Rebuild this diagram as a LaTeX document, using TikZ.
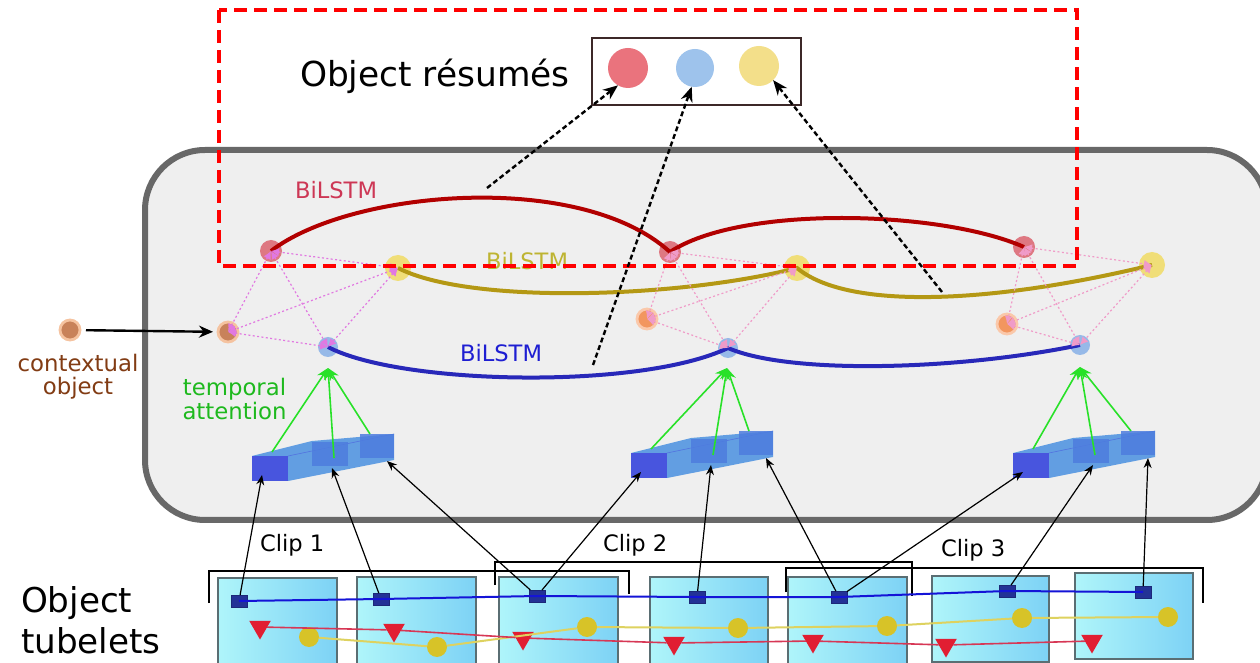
\documentclass[tikz,border=0pt]{standalone}
\usepackage{fontspec}
\setmainfont{DejaVu Sans}
\usetikzlibrary{arrows.meta,shapes.geometric}
\definecolor{gboxfill}{RGB}{239,239,239}
\definecolor{gboxline}{RGB}{104,104,104}
\definecolor{lstmred}{RGB}{178,0,0}
\definecolor{lstmredtxt}{RGB}{205,55,85}
\definecolor{lstmyel}{RGB}{180,152,20}
\definecolor{lstmyeltxt}{RGB}{190,180,50}
\definecolor{lstmblue}{RGB}{40,40,185}
\definecolor{lstmbluetxt}{RGB}{30,30,210}
\definecolor{nred}{RGB}{222,120,130}
\definecolor{nyel}{RGB}{240,222,120}
\definecolor{nblue}{RGB}{150,185,232}
\definecolor{norange}{RGB}{242,150,95}
\definecolor{noring}{RGB}{250,200,170}
\definecolor{nbrown}{RGB}{200,130,90}
\definecolor{nbring}{RGB}{245,195,160}
\definecolor{pinkv}{RGB}{225,120,225}
\definecolor{pinkp}{RGB}{240,155,200}
\definecolor{ctxtxt}{RGB}{130,60,20}
\definecolor{attxt}{RGB}{30,185,30}
\definecolor{attarr}{RGB}{40,225,40}
\definecolor{blkfront}{RGB}{72,85,222}
\definecolor{blkbody}{RGB}{98,158,226}
\definecolor{blkcell}{RGB}{78,125,222}
\definecolor{framel}{RGB}{175,245,250}
\definecolor{framer}{RGB}{125,210,245}
\definecolor{frameline}{RGB}{90,110,115}
\definecolor{sqfill}{RGB}{35,50,150}
\definecolor{trkblue}{RGB}{20,20,215}
\definecolor{trkyel}{RGB}{222,210,95}
\definecolor{circyel}{RGB}{215,195,40}
\definecolor{trired}{RGB}{225,30,50}
\definecolor{trkred}{RGB}{215,55,85}
\definecolor{resred}{RGB}{234,115,125}
\definecolor{resblue}{RGB}{158,195,236}
\definecolor{resyel}{RGB}{243,223,138}
\definecolor{resline}{RGB}{60,40,40}
\tikzset{
  featblock/.pic={
    \fill[blkbody] (0,0) -- (60,-15) -- (142,-22) -- (142,4) -- (36,25) -- (0,25) -- cycle;
    \draw[blkfront!60!blkbody, line width=0.3pt] (36,0) -- (142,-22);
    \fill[blkcell, opacity=0.85] (60,-14) rectangle (96,10);
    \fill[blkcell, opacity=0.85] (108,-22) rectangle (142,2);
    \fill[blkfront] (0,0) rectangle (36,25);
    \coordinate (-a) at (10,19);
    \coordinate (-b) at (80,12);
    \coordinate (-c) at (135,5);
    \coordinate (-g1) at (20,-4);
    \coordinate (-g2) at (82,2);
    \coordinate (-g3) at (118,-22);
  }
}
\begin{document}
\begin{tikzpicture}[x=0.5pt,y=-0.5pt,
  every node/.style={inner sep=0pt, outer sep=0pt},
  lnred/.style={circle, fill=nred, minimum size=11pt},
  lnyel/.style={circle, fill=nyel, minimum size=13pt},
  lnblue/.style={circle, fill=nblue, minimum size=10pt},
  lnorange/.style={circle, fill=norange, draw=noring, line width=1.4pt, minimum size=10pt},
  lnbrown/.style={circle, fill=nbrown, draw=nbring, line width=1.4pt, minimum size=10pt},
  pinkweb/.style={draw=#1, line width=0.6pt, dash pattern=on 1pt off 1.2pt,
     arrows={Latex[length=4pt,width=4pt]-Latex[length=4pt,width=4pt]}},
  lstmcurve/.style={draw=#1, line width=2pt},
  attarrow/.style={draw=attarr, line width=0.8pt, -{Stealth[length=6pt,width=5pt]}},
  tubearrow/.style={draw=black, line width=0.6pt, -{Stealth[length=5pt,width=4pt]}},
  resarrow/.style={draw=black, line width=1.2pt, dash pattern=on 2.5pt off 1.5pt, -{Stealth[length=7.5pt,width=6pt]}},
  reddash/.style={draw=red, line width=2pt, dash pattern=on 6.5pt off 3.5pt},
  framebox/.style={draw=frameline, line width=0.7pt, left color=framel, right color=framer},
  bracket/.style={draw=black, line width=0.7pt},
  sqnode/.style={rectangle, fill=sqfill, draw=sqfill!80!black, line width=0.3pt, minimum width=8pt, minimum height=6pt},
  ycnode/.style={circle, fill=circyel, minimum size=10pt},
  trinode/.style={regular polygon, regular polygon sides=3, shape border rotate=180, fill=trired, minimum size=12.5pt},
  lbl/.style={font=\fontsize{11.3}{11.5}\selectfont},
]
\clip (0,0) rectangle (1260,663);
\fill[white] (0,0) rectangle (1260,663);
% grey module box
\draw[line width=3pt, draw=gboxline, fill=gboxfill, rounded corners=30pt] (145,150) rectangle (1267,520);

% LSTM nodes
\node[lnred] (r1) at (271,251) {};
\node[lnred] (r2) at (670,252) {};
\node[lnred] (r3) at (1024,247) {};
\node[lnyel] (y1) at (398,268) {};
\node[lnyel] (y2) at (797,268) {};
\node[lnyel] (y3) at (1152,265) {};
\node[lnbrown] (o1) at (228,332) {};
\node[lnorange] (o2) at (647,319) {};
\node[lnorange] (o3) at (1007,324) {};
\node[lnblue] (b1) at (328,347) {};
\node[lnblue] (b2) at (728,348) {};
\node[lnblue] (b3) at (1080,345) {};

% BiLSTM curves
\draw[lstmcurve=lstmred] (r1.center) .. controls (350,190) and (580,170) .. (r2.center)
  .. controls (740,205) and (940,210) .. (r3.center);
\draw[lstmcurve=lstmyel] (y1.center) .. controls (470,305) and (680,298) .. (y2.center)
  .. controls (850,312) and (1000,302) .. (y3.center);
\draw[lstmcurve=lstmblue] (b1.center) .. controls (400,385) and (640,390) .. (b2.center)
  .. controls (790,375) and (960,370) .. (b3.center);

% pink attention webs
\foreach \a/\b in {r1/y1,r1/o1,r1/b1,y1/o1,y1/b1,o1/b1}
  \draw[pinkweb=pinkv] (\a.center) -- (\b.center);
\foreach \a/\b in {r2/y2,r2/o2,r2/b2,y2/o2,y2/b2,o2/b2}
  \draw[pinkweb=pinkp] (\a.center) -- (\b.center);
\foreach \a/\b in {r3/y3,r3/o3,r3/b3,y3/o3,y3/b3,o3/b3}
  \draw[pinkweb=pinkp] (\a.center) -- (\b.center);

% labels
\node[lbl, text=lstmredtxt, anchor=base west] (lred) at (295,199) {BiLSTM};
\node[lbl, text=lstmyeltxt, anchor=base west] (lyel) at (486,270) {BiLSTM};
\node[lbl, text=lstmbluetxt, anchor=base west] (lblue) at (460,362) {BiLSTM};

% contextual object
\node[lnbrown] (ctx) at (70,330) {};
\draw[line width=1.2pt, -{Stealth[length=7pt,width=6pt]}, shorten <=3pt, shorten >=2.5pt] (ctx) -- (o1);
\node[lbl, text=ctxtxt, align=center, font=\fontsize{11.4}{11.5}\selectfont] (ctxlbl) at (78,376.5) {contextual\\object};
\node[lbl, text=attxt, align=center, font=\fontsize{11.4}{10.8}\selectfont] (attlbl) at (234.5,399) {temporal\\attention};

% feature blocks
\pic (blk1) at (252,456) {featblock};
\pic (blk2) at (631,453) {featblock};
\pic (blk3) at (1013,453) {featblock};
\coordinate (att1) at (328,368);
\coordinate (att2) at (727,368);
\coordinate (att3) at (1080,367);
\foreach \k in {1,2,3} {
  \draw[attarrow] (blk\k-g1) -- (att\k);
  \draw[attarrow] (blk\k-g2) -- (att\k);
  \draw[attarrow] (blk\k-g3) -- (att\k);
}

% frames
\draw[framebox] (218,578) rectangle (337,672);
\draw[framebox] (357,577) rectangle (476,672);
\draw[framebox] (499,577) rectangle (618,672);
\draw[framebox] (650,577) rectangle (768,672);
\draw[framebox] (788,577) rectangle (907,672);
\draw[framebox] (932,576) rectangle (1049,662);
\draw[framebox] (1075,573) rectangle (1193,659);

% clip brackets
\draw[bracket] (209,603) -- (209,571) -- (629,571) -- (629,594);
\draw[bracket] (495,585) -- (495,562) -- (912,562) -- (912,596);
\draw[bracket] (786,592) -- (786,568) -- (1203,568) -- (1203,603);
\node[lbl, anchor=base west] (clip1) at (260,552) {Clip 1};
\node[lbl, anchor=base west] (clip2) at (603,552) {Clip 2};
\node[lbl, anchor=base west] (clip3) at (941,557) {Clip 3};

% tubelet tracks
\node[sqnode] (q1) at (239,601) {};
\node[sqnode] (q2) at (381,599) {};
\node[sqnode] (q3) at (537,596) {};
\node[sqnode] (q4) at (697,597) {};
\node[sqnode] (q5) at (839,597) {};
\node[sqnode] (q6) at (1007,591) {};
\node[sqnode] (q7) at (1143,592) {};
\node[ycnode] (c1) at (309,637) {};
\node[ycnode] (c2) at (437,647) {};
\node[ycnode] (c3) at (587,627) {};
\node[ycnode] (c4) at (738,628) {};
\node[ycnode] (c5) at (887,626) {};
\node[ycnode] (c6) at (1022,618) {};
\node[ycnode] (c7) at (1168,617) {};
\node[trinode] (t1) at (260,627) {};
\node[trinode] (t2) at (394,630) {};
\node[trinode] (t3) at (523,638) {};
\node[trinode] (t4) at (674,643) {};
\node[trinode] (t5) at (813,641) {};
\node[trinode] (t6) at (946,645) {};
\node[trinode] (t7) at (1092,641) {};
\draw[trkblue, line width=1pt] (q1.center) -- (q2.center) -- (q3.center) -- (q4.center) -- (q5.center) -- (q6.center) -- (q7.center);
\draw[trkyel, line width=1pt] (c1) -- (c2) -- (c3) -- (c4) -- (c5) -- (c6) -- (c7);
\draw[trkred, line width=0.8pt] (t1) -- (t2) -- (t3) -- (t4) -- (t5) -- (t6) -- (t7);

\node[font=\fontsize{17.1}{20.5}\selectfont, align=left, anchor=west] (tubelbl) at (21,620.5) {Object\\tubelets};

% tubelets to feature blocks
\draw[tubearrow] (q1) -- (blk1-a);
\draw[tubearrow] (q2) -- (blk1-b);
\draw[tubearrow] (q3) -- (blk1-c);
\draw[tubearrow] (q3) -- (blk2-a);
\draw[tubearrow] (q4) -- (blk2-b);
\draw[tubearrow] (q5) -- (blk2-c);
\draw[tubearrow] (q5) -- (blk3-a);
\draw[tubearrow] (q6) -- (blk3-b);
\draw[tubearrow] (q7) -- (blk3-c);

% object resumes
\node[draw=resline, line width=0.75pt, minimum width=104.5pt, minimum height=33.5pt] (resbox) at (696.5,71.5) {};
\node[circle, fill=resred, minimum size=20pt] (rc) at (628,68) {};
\node[circle, fill=resblue, minimum size=19pt] (bc) at (695,68) {};
\node[circle, fill=resyel, minimum size=20pt] (yc) at (759,66) {};
\node[font=\fontsize{17.2}{20}\selectfont, anchor=base west] (restitle) at (300,87) {Object résumés};

% red dashed highlight
\draw[reddash] (219,10) rectangle (1077,266);

% dashed arrows to resumes
\coordinate (d1s) at (487,188);
\coordinate (d2s) at (593,365);
\coordinate (d3s) at (942,292);
\draw[resarrow] (d1s) -- (rc.-120);
\draw[resarrow] (d2s) -- (bc.-100);
\draw[resarrow] (d3s) -- (yc.-45);
\end{tikzpicture}
\end{document}
